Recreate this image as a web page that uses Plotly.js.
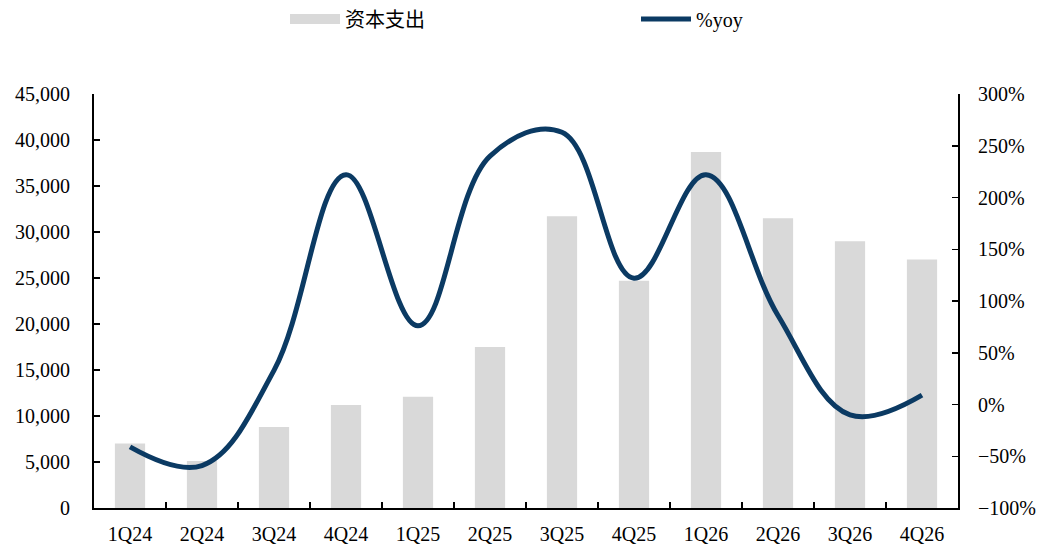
<!DOCTYPE html>
<html><head><meta charset="utf-8">
<script src="https://cdn.plot.ly/plotly-3.0.1.min.js"></script>
<style>html,body{margin:0;padding:0;background:#fff}#c{width:1049px;height:545px}</style>
</head><body><div id="c"></div>
<script>
const categories = ["1Q24","2Q24","3Q24","4Q24","1Q25","2Q25","3Q25","4Q25","1Q26","2Q26","3Q26","4Q26"];
const capex = [7000,5100,8800,11200,12100,17500,31700,24700,38700,31500,29000,27000];
const yoy = [-41,-59,33,222,76,240,263,122,222,86,-10,9];
const capexName = "资本支出";
const yoyName = "%yoy";

const fam = "Times New Roman, Liberation Serif, serif";
const font = {family:fam, size:20, color:"#000"};
const legFont = {family:"Times New Roman, Liberation Serif, Noto Sans CJK SC, serif", size:20, color:"#000"};
const data = [
  {type:"bar", x:categories, y:capex, name:capexName, marker:{color:"#d9d9d9"}, showlegend:false, yaxis:"y"},
  {type:"scatter", mode:"lines", x:[null], y:[null], name:capexName, line:{color:"#d9d9d9", width:10}, yaxis:"y", legend:"legend", hoverinfo:"skip"},
  {type:"scatter", mode:"lines", x:categories, y:yoy, name:yoyName, line:{color:"#0b3a63", width:5, shape:"spline", smoothing:1.1}, yaxis:"y2", legend:"legend2"}
];
const layout = {
  width:1049, height:545,
  margin:{l:94, r:91, t:94, b:37},
  paper_bgcolor:"#fff", plot_bgcolor:"#fff",
  font:font,
  bargap:0.58,
  showlegend:true,
  legend:{orientation:"h", xref:"container", yref:"container", x:285/1049, xanchor:"left", y:1-19/545, yanchor:"middle", itemwidth:50, font:legFont, bgcolor:"rgba(0,0,0,0)"},
  legend2:{orientation:"h", xref:"container", yref:"container", x:636/1049, xanchor:"left", y:1-19/545, yanchor:"middle", itemwidth:50, font:legFont, bgcolor:"rgba(0,0,0,0)"},
  xaxis:{type:"category", showline:true, linecolor:"#000", linewidth:2, ticks:"inside", ticklen:6, tickwidth:1.5, tickcolor:"#000", tickson:"boundaries", ticklabelstandoff:7, showgrid:false, zeroline:false, tickfont:font},
  yaxis:{range:[0,45000], dtick:5000, tickformat:",d", showline:true, linecolor:"#000", linewidth:2, ticks:"inside", ticklen:6, tickwidth:1.5, tickcolor:"#000", ticklabelstandoff:18, showgrid:false, zeroline:false, tickfont:font},
  yaxis2:{overlaying:"y", side:"right", range:[-100,300], dtick:50, ticksuffix:"%", showline:true, linecolor:"#000", linewidth:2, ticks:"inside", ticklen:6, tickwidth:1.5, tickcolor:"#000", ticklabelstandoff:14, showgrid:false, zeroline:false, tickfont:font}
};
Plotly.newPlot("c", data, layout, {displayModeBar:false, staticPlot:true});
</script></body></html>
